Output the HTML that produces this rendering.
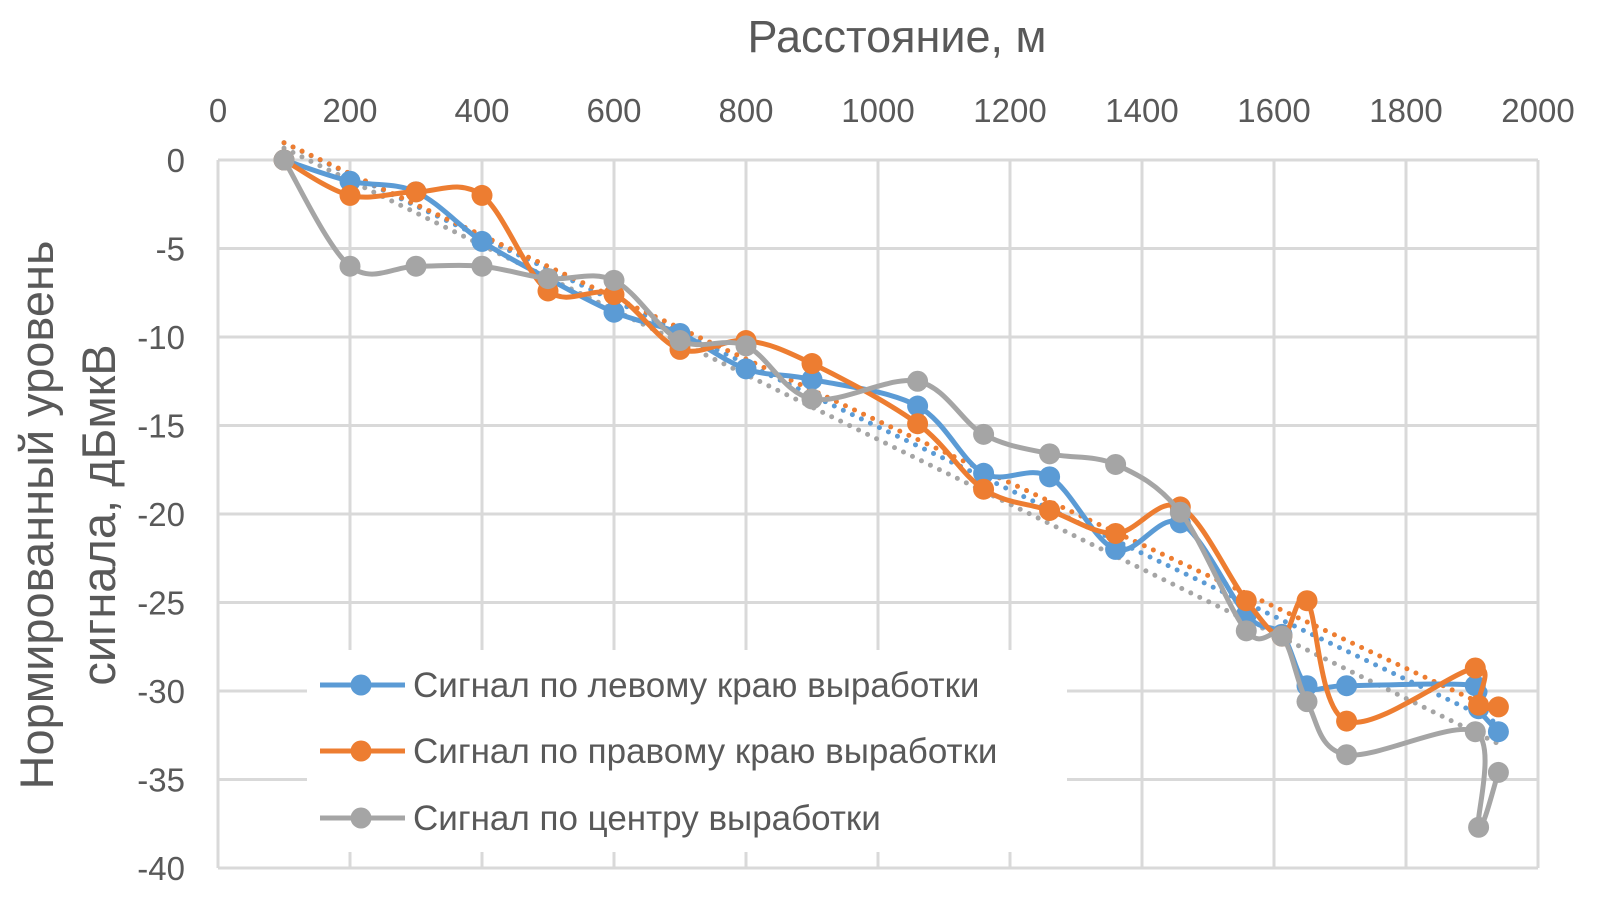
<!DOCTYPE html>
<html><head><meta charset="utf-8"><style>
body{margin:0;background:#fff;}
svg{display:block;font-family:"Liberation Sans",sans-serif;}
</style></head><body>
<svg id="chart" width="1605" height="906" viewBox="0 0 1605 906" xmlns="http://www.w3.org/2000/svg">
<rect width="1605" height="906" fill="#fff"/>
<g id="grid"></g>
<g id="trends"></g>
<g id="series"></g>
<g id="ticks"></g>
<text x="897" y="52" font-size="45" fill="#595959" text-anchor="middle">Расстояние, м</text>
<text transform="translate(53,515) rotate(-90)" font-size="47" fill="#595959" text-anchor="middle"><tspan x="0" dy="0">Нормированный уровень</tspan><tspan x="0" dy="62">сигнала, дБмкВ</tspan></text>
<g id="legend"></g>
</svg>
<script>
const xTicks=[0,200,400,600,800,1000,1200,1400,1600,1800,2000];
const yTicks=[0,-5,-10,-15,-20,-25,-30,-35,-40];
const xLeft=[100,200,300,400,500,600,700,800,900,1060,1160,1260,1360,1458,1558,1612,1650,1710,1905,1910,1940];
const yLeft=[0,-1.2,-1.8,-4.6,-6.7,-8.6,-9.8,-11.8,-12.4,-13.9,-17.7,-17.9,-22,-20.5,-25.7,-26.8,-29.7,-29.7,-29.7,-31,-32.3];
const xRight=[100,200,300,400,500,600,700,800,900,1060,1160,1260,1360,1458,1558,1612,1650,1710,1905,1910,1940];
const yRight=[0,-2,-1.8,-2,-7.4,-7.6,-10.7,-10.2,-11.5,-14.9,-18.6,-19.8,-21.1,-19.6,-24.9,-26.9,-24.9,-31.7,-28.7,-30.8,-30.9];
const xCenter=[100,200,300,400,500,600,700,800,900,1060,1160,1260,1360,1458,1558,1612,1650,1710,1905,1910,1940];
const yCenter=[0,-6,-6,-6,-6.7,-6.8,-10.2,-10.5,-13.5,-12.5,-15.5,-16.6,-17.2,-19.9,-26.6,-26.9,-30.6,-33.6,-32.3,-37.7,-34.6];
const seriesNames=["Сигнал по левому краю выработки","Сигнал по правому краю выработки","Сигнал по центру выработки"];
const colors=["#5B9BD5","#ED7D31","#A5A5A5"];

const NS="http://www.w3.org/2000/svg";
const X0=218,X1=1538,Y0=160,Y1=868;
const sx=v=>X0+(v-0)/(2000-0)*(X1-X0);
const sy=v=>Y0+(0-v)/(0-(-40))*(Y1-Y0);
function mk(tag,attrs,parent){const e=document.createElementNS(NS,tag);for(const k in attrs)e.setAttribute(k,attrs[k]);parent.appendChild(e);return e;}
const grid=document.getElementById('grid'),ticks=document.getElementById('ticks');
xTicks.forEach(t=>{
  const l=mk('line',{x1:sx(t),x2:sx(t),y1:Y0,y2:Y1,stroke:'#d9d9d9','stroke-width':3},grid);
  
  
  const tx=mk('text',{x:sx(t),y:122,'font-size':33,fill:'#595959','text-anchor':'middle'},ticks);
  tx.textContent=t;
  
  
});
yTicks.forEach(t=>{
  const l=mk('line',{x1:X0,x2:X1,y1:sy(t),y2:sy(t),stroke:'#d9d9d9','stroke-width':3},grid);
  
  
  const tx=mk('text',{x:185,y:sy(t)+12,'font-size':33,fill:'#595959','text-anchor':'end'},ticks);
  tx.textContent=t;
  
  
});
const data=[[xLeft,yLeft],[xRight,yRight],[xCenter,yCenter]];
const trends=document.getElementById('trends'),ser=document.getElementById('series');
data.forEach((d,i)=>{
  const xs=d[0],ys=d[1],n=xs.length;
  let mx=0,my=0;for(let k=0;k<n;k++){mx+=xs[k];my+=ys[k];}mx/=n;my/=n;
  let num=0,den=0;for(let k=0;k<n;k++){num+=(xs[k]-mx)*(ys[k]-my);den+=(xs[k]-mx)**2;}
  const b=num/den,a=my-b*mx;
  const xa=xs[0],xb=xs[n-1];
  const tl=mk('line',{x1:sx(xa),y1:sy(a+b*xa),x2:sx(xb),y2:sy(a+b*xb),stroke:colors[i],'stroke-width':5,'stroke-dasharray':'0 10','stroke-linecap':'round'},trends);
  
  
});
data.forEach((d,i)=>{
  const pts=d[0].map((x,k)=>[sx(x),sy(d[1][k])]);
  let p='M'+pts[0][0]+','+pts[0][1];
  const t=0.5/3;
  for(let k=0;k<pts.length-1;k++){
    const p0=pts[Math.max(0,k-1)],p1=pts[k],p2=pts[k+1],p3=pts[Math.min(pts.length-1,k+2)];
    const c1=[p1[0]+(p2[0]-p0[0])*t,p1[1]+(p2[1]-p0[1])*t];
    const c2=[p2[0]-(p3[0]-p1[0])*t,p2[1]-(p3[1]-p1[1])*t];
    p+=' C'+c1[0]+','+c1[1]+' '+c2[0]+','+c2[1]+' '+p2[0]+','+p2[1];
  }
  const g=mk('g',{},ser);
  
  
  const path=mk('path',{d:p,fill:'none',stroke:colors[i],'stroke-width':5},g);
  
  
  pts.forEach(q=>{
    const c=mk('circle',{cx:q[0],cy:q[1],r:10.5,fill:colors[i]},g);
    
    
  });
});
const lg=document.getElementById('legend');
mk('rect',{x:307,y:650,width:760,height:202,fill:'#fff'},lg);
const ly=[685,751,818];
seriesNames.forEach((s,i)=>{
  const l=mk('line',{x1:320,x2:405,y1:ly[i],y2:ly[i],stroke:colors[i],'stroke-width':5},lg);
  
  
  const c=mk('circle',{cx:361,cy:ly[i],r:10.5,fill:colors[i]},lg);
  
  
  const t=mk('text',{x:413,y:ly[i]+12,'font-size':35,fill:'#595959'},lg);
  t.textContent=s;
  
  
});
</script>
</body></html>
